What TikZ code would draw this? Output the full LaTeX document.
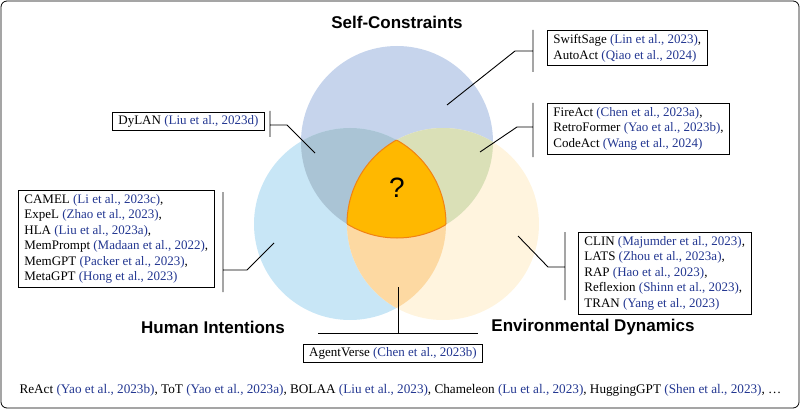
\documentclass[tikz,border=0pt]{standalone}
\usepackage{fontspec}
\setmainfont{Liberation Serif}
\newfontfamily\hsans{Liberation Sans}
\definecolor{cb}{RGB}{35,55,145}
\definecolor{ctop}{RGB}{198,212,236}
\definecolor{cleft}{RGB}{200,230,246}
\definecolor{cright}{RGB}{255,244,222}
\definecolor{ctl}{RGB}{170,196,213}
\definecolor{ctr}{RGB}{218,224,183}
\definecolor{clr}{RGB}{253,217,162}
\definecolor{cmid}{RGB}{255,184,0}
\definecolor{cedge}{RGB}{240,130,20}
\newcommand{\cbl}[1]{\textcolor{cb}{#1}}
\begin{document}
\begin{tikzpicture}[x=1pt,y=-1pt,
  box/.style={draw,line width=0.8pt,align=left,inner xsep=6pt,inner ysep=4pt,font=\fontsize{13}{15.5}\selectfont},
  lab/.style={font=\hsans\bfseries\fontsize{17}{18}\selectfont},
  con/.style={line width=0.9pt}]
\useasboundingbox (0,0) rectangle (800,409);
\draw[rounded corners=6pt,line width=0.8pt] (1,1) rectangle (799,408);
\def\T{(397,142) circle (96)}
\def\L{(350,224) circle (96)}
\def\R{(443,224) circle (96)}
\fill[ctop] \T; \fill[cleft] \L; \fill[cright] \R;
\begin{scope}\clip \T; \fill[ctl] \L; \end{scope}
\begin{scope}\clip \T; \fill[ctr] \R; \end{scope}
\begin{scope}\clip \L; \fill[clr] \R; \end{scope}
\begin{scope}\clip \T; \clip \L; \fill[cmid] \R; \end{scope}
\begin{scope}\clip \T; \clip \L; \draw[cedge,line width=1pt] \R; \end{scope}
\begin{scope}\clip \T; \clip \R; \draw[cedge,line width=1pt] \L; \end{scope}
\begin{scope}\clip \L; \clip \R; \draw[cedge,line width=1pt] \T; \end{scope}
\node[font=\hsans\fontsize{28}{28}\selectfont] (q) at (397,188) {?};
\node[lab] (st) at (397,22) {Self-Constraints};
\node[lab] (sl) at (213,327) {Human Intentions};
\node[lab] (sr) at (593,327) {Environmental Dynamics};

\node[box,anchor=north west] (b1) at (547,30) {SwiftSage \cbl{(Lin et al., 2023)},\\AutoAct \cbl{(Qiao et al., 2024)}};
\node[box,anchor=north west] (b2) at (547,103) {FireAct \cbl{(Chen et al., 2023a)},\\RetroFormer \cbl{(Yao et al., 2023b)},\\CodeAct \cbl{(Wang et al., 2024)}};
\node[box,anchor=north west,inner ysep=3pt] (b3) at (112,112) {DyLAN \cbl{(Liu et al., 2023d)}};
\node[box,anchor=north west] (b4) at (18,190) {CAMEL \cbl{(Li et al., 2023c)},\\ExpeL \cbl{(Zhao et al., 2023)},\\HLA \cbl{(Liu et al., 2023a)},\\MemPrompt \cbl{(Madaan et al., 2022)},\\MemGPT \cbl{(Packer et al., 2023)},\\MetaGPT \cbl{(Hong et al., 2023)}};
\node[box,anchor=north west] (b5) at (578,232) {CLIN \cbl{(Majumder et al., 2023)},\\LATS \cbl{(Zhou et al., 2023a)},\\RAP \cbl{(Hao et al., 2023)},\\Reflexion \cbl{(Shinn et al., 2023)},\\TRAN \cbl{(Yang et al., 2023)}};
\node[box,anchor=north,inner ysep=3pt] (b6) at (393,344) {AgentVerse \cbl{(Chen et al., 2023b)}};
\node[anchor=west,font=\fontsize{13.2}{14}\selectfont] (bot) at (16,390) {ReAct \cbl{(Yao et al., 2023b)}, ToT \cbl{(Yao et al., 2023a)}, BOLAA \cbl{(Liu et al., 2023)}, Chameleon \cbl{(Lu et al., 2023)}, HuggingGPT \cbl{(Shen et al., 2023)}, \dots};

\coordinate (e1) at (447,105); \coordinate (e2) at (480,152); \coordinate (e3) at (315,153);
\coordinate (e4) at (274,243); \coordinate (e5) at (518,236); \coordinate (e6) at (398,287);
\draw[con] (533,30) -- (533,72) (533,51) -- (515,51) -- (e1);
\draw[con] (533,103) -- (533,157) (533,127) -- (517,127) -- (e2);
\draw[con] (270,111) -- (270,137) (270,125) -- (287,125) -- (e3);
\draw[con] (223,192) -- (223,292) (223,270) -- (247,270) -- (e4);
\draw[con] (565,232) -- (565,300) (565,267) -- (548,267) -- (e5);
\draw[con] (318,333) -- (478,333) (398,333) -- (e6);
\end{tikzpicture}
\end{document}
